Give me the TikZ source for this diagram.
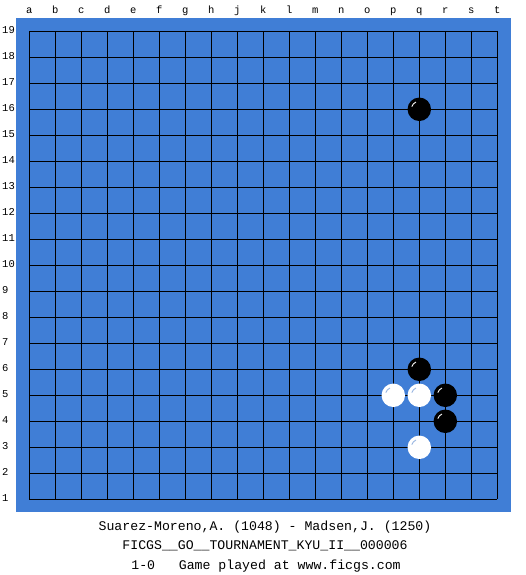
\documentclass[tikz,border=0pt]{standalone}
\usepackage{fontspec}
\setmonofont{Liberation Mono}
\definecolor{boardblue}{RGB}{64,126,214}
\definecolor{shineblue}{RGB}{150,180,225}
\begin{document}
\begin{tikzpicture}[x=1pt,y=-1pt,
    gridline/.style={line width=1.1pt, color=black},
    coordlabel/.style={font=\ttfamily\fontsize{10.5}{10.5}\selectfont, inner sep=0pt},
    infotext/.style={font=\ttfamily\fontsize{13.2}{13.2}\selectfont, inner sep=0pt, anchor=base},
    blackstone/.style={circle, fill=black, minimum size=23.5pt, inner sep=0pt},
    whitestone/.style={circle, fill=white, minimum size=23.5pt, inner sep=0pt}]
  \useasboundingbox (0,0) rectangle (525,575);
  \def\gx{29.3}
  \def\gy{31.3}
  \def\cell{26}
  % board
  \fill[boardblue] (16,18) rectangle (511,512);
  \foreach \i in {0,...,18} {
    \draw[gridline] ({\gx+\i*\cell},\gy) -- ({\gx+\i*\cell},{\gy+18*\cell});
    \draw[gridline] (\gx,{\gy+\i*\cell}) -- ({\gx+18*\cell},{\gy+\i*\cell});
  }
  % coordinates round the board
  \foreach \c [count=\i from 0] in {a,b,c,d,e,f,g,h,j,k,l,m,n,o,p,q,r,s,t}
    \node[coordlabel, anchor=base] (col\c) at ({\gx+\i*\cell},14) {\c};
  \foreach \r in {1,...,19}
    \node[coordlabel, anchor=base west] (row\r) at (2,{\gy+(19-\r)*\cell+2}) {\r};
  % stones (y is flipped, so the shine runs from 200 to 245)
  \foreach \name/\col/\row in {q16/15/16, q6/15/6, r5/16/5, r4/16/4} {
    \node[blackstone] (b\name) at ({\gx+\col*\cell},{\gy+(19-\row)*\cell}) {};
    \draw[white, line width=0.9pt] (b\name.center) ++(200:8) arc (200:245:8);
  }
  \foreach \name/\col/\row in {p5/14/5, q5/15/5, q3/15/3} {
    \node[whitestone] (w\name) at ({\gx+\col*\cell},{\gy+(19-\row)*\cell}) {};
    \draw[shineblue, line width=0.9pt] (w\name.center) ++(200:8) arc (200:245:8);
  }
  % game information
  \node[infotext] (players) at (265,530) {Suarez-Moreno,A. (1048) - Madsen,J. (1250)};
  \node[infotext] (event) at (265,549) {FICGS\_\_GO\_\_TOURNAMENT\_KYU\_II\_\_000006};
  \node[infotext] (result) at (266,569) {1-0\ \ \ Game played at www.ficgs.com};
\end{tikzpicture}
\end{document}
